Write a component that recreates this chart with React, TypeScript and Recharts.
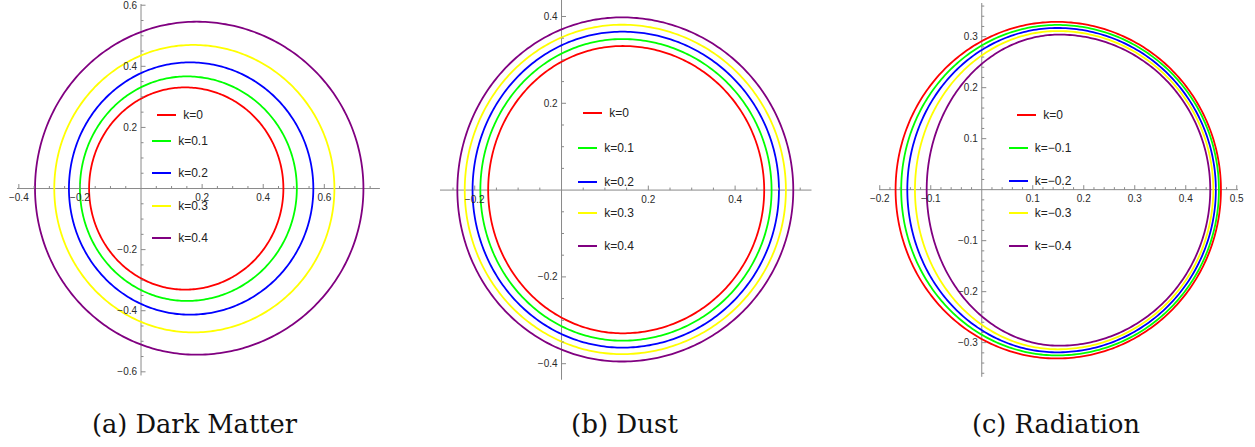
import React from 'react';
import { LineChart, Line, XAxis, YAxis, ReferenceLine, ReferenceDot } from 'recharts';

// ---- Orbit data: one entry per curve (left/right crossings of the x-axis,
// x of the highest point, top and bottom extents) ----
const orbitColors = ['#ff0000', '#00ff00', '#0000ff', '#ffff00', '#800080'];

const darkMatterLabels = ['k=0', 'k=0.1', 'k=0.2', 'k=0.3', 'k=0.4'];
const darkMatterLeft = [-0.170, -0.200, -0.236, -0.284, -0.347];
const darkMatterRight = [0.466, 0.510, 0.564, 0.633, 0.728];
const darkMatterPeakX = [0.144, 0.150, 0.160, 0.171, 0.182];
const darkMatterTop = [0.331, 0.367, 0.413, 0.470, 0.546];
const darkMatterBottom = [-0.331, -0.368, -0.413, -0.471, -0.544];

const dustLabels = ['k=0', 'k=0.1', 'k=0.2', 'k=0.3', 'k=0.4'];
const dustLeft = [-0.169, -0.187, -0.205, -0.223, -0.240];
const dustRight = [0.467, 0.484, 0.501, 0.517, 0.534];
const dustPeakX = [0.141, 0.140, 0.140, 0.139, 0.139];
const dustTop = [0.332, 0.348, 0.365, 0.381, 0.398];
const dustBottom = [-0.330, -0.347, -0.363, -0.378, -0.395];

const radiationLabels = ['k=0', 'k=\u22120.1', 'k=\u22120.2', 'k=\u22120.3', 'k=\u22120.4'];
const radiationLeft = [-0.169, -0.158, -0.146, -0.131, -0.108];
const radiationRight = [0.469, 0.465, 0.459, 0.454, 0.448];
const radiationPeakX = [0.147, 0.148, 0.148, 0.149, 0.152];
const radiationTop = [0.329, 0.323, 0.317, 0.311, 0.304];
const radiationBottom = [-0.331, -0.325, -0.319, -0.313, -0.306];

// ---- Axis ticks ----
const darkMatterXTicks = [-0.4, -0.2, 0.2, 0.4, 0.6];
const darkMatterYTicks = [0.6, 0.4, 0.2, -0.2, -0.4, -0.6];
const dustXTicks = [-0.2, 0.2, 0.4];
const dustYTicks = [0.4, 0.2, -0.2, -0.4];
const radiationXTicks = [-0.2, -0.1, 0.1, 0.2, 0.3, 0.4, 0.5];
const radiationYTicks = [0.3, 0.2, 0.1, -0.1, -0.2, -0.3];

const AXIS_COLOR = '#8a8a8a';
const TICK_TEXT = '#2a2a2a';
const SANS = "'Liberation Sans', Arial, sans-serif";
const SERIF = "'DejaVu Serif', serif";

type Orbit = { x: number; y: number }[];

// Closed orbit traced through its four extreme points.
function traceOrbit(left: number, right: number, peakX: number, top: number, bottom: number): Orbit {
  const n = 360;
  const pts: Orbit = [];
  for (let i = 0; i <= n; i++) {
    const t = (2 * Math.PI * i) / n;
    const c = Math.cos(t);
    const s = Math.sin(t);
    const x = peakX + c * (c >= 0 ? right - peakX : peakX - left);
    const y = s >= 0 ? s * top : -s * bottom;
    pts.push({ x, y });
  }
  return pts;
}

function fmt(v: number): string {
  const s = Math.abs(v).toFixed(1);
  return v < 0 ? '\u2212' + s : s;
}

function minorTicks(domain: [number, number], step: number, majors: number[]): number[] {
  const out: number[] = [];
  const start = Math.ceil(domain[0] / step - 1e-9);
  const end = Math.floor(domain[1] / step + 1e-9);
  for (let i = start; i <= end; i++) {
    const v = +(i * step).toFixed(4);
    if (Math.abs(v) < 1e-9) continue;
    if (majors.some((m) => Math.abs(m - v) < 1e-9)) continue;
    out.push(v);
  }
  return out;
}

type PanelProps = {
  caption: string;
  captionX: number;
  captionWidth: number;
  labels: string[];
  left: number[];
  right: number[];
  peakX: number[];
  top: number[];
  bottom: number[];
  xTicks: number[];
  yTicks: number[];
  minorStep: number;
  xDomain: [number, number];
  yDomain: [number, number];
  scale: number;
  originX: number;
  originY: number;
  legendX: number;
  legendY: number[];
};

const PAD = 30;

function OrbitPanel(p: PanelProps) {
  const plotX = p.originX + p.xDomain[0] * p.scale;
  const plotY = p.originY - p.yDomain[1] * p.scale;
  const plotW = (p.xDomain[1] - p.xDomain[0]) * p.scale;
  const plotH = (p.yDomain[1] - p.yDomain[0]) * p.scale;
  const xMinor = minorTicks(p.xDomain, p.minorStep, p.xTicks);
  const yMinor = minorTicks(p.yDomain, p.minorStep, p.yTicks);

  const xTick = (len: number, label?: string) => (q: any) => (
    <g>
      <line x1={q.cx} y1={q.cy} x2={q.cx} y2={q.cy - len} stroke={AXIS_COLOR} strokeWidth={1} />
      {label ? (
        <text x={q.cx} y={q.cy + 12.5} textAnchor="middle" fontSize={10} fill={TICK_TEXT}
          style={{ fontFamily: SANS }}>{label}</text>
      ) : null}
    </g>
  );
  const yTick = (len: number, label?: string) => (q: any) => (
    <g>
      <line x1={q.cx} y1={q.cy} x2={q.cx + len} y2={q.cy} stroke={AXIS_COLOR} strokeWidth={1} />
      {label ? (
        <text x={q.cx - 4} y={q.cy + 3.5} textAnchor="end" fontSize={10} fill={TICK_TEXT}
          style={{ fontFamily: SANS }}>{label}</text>
      ) : null}
    </g>
  );

  return (
    <>
      <div style={{ position: 'absolute', left: plotX - PAD, top: plotY - PAD }}>
        <LineChart width={plotW + 2 * PAD} height={plotH + 2 * PAD}
          margin={{ top: PAD, right: PAD, bottom: PAD, left: PAD }}>
          <XAxis type="number" dataKey="x" domain={p.xDomain} hide allowDataOverflow />
          <YAxis type="number" dataKey="y" domain={p.yDomain} hide allowDataOverflow />
          <ReferenceLine y={0} stroke={AXIS_COLOR} strokeWidth={1} ifOverflow="visible" />
          <ReferenceLine x={0} stroke={AXIS_COLOR} strokeWidth={1} ifOverflow="visible" />
          {xMinor.map((v) => (
            <ReferenceDot key={'xm' + v} x={v} y={0} r={0} ifOverflow="visible" shape={xTick(2.5)} />
          ))}
          {yMinor.map((v) => (
            <ReferenceDot key={'ym' + v} x={0} y={v} r={0} ifOverflow="visible" shape={yTick(2.5)} />
          ))}
          {p.xTicks.map((v) => (
            <ReferenceDot key={'xt' + v} x={v} y={0} r={0} ifOverflow="visible" shape={xTick(4.5, fmt(v))} />
          ))}
          {p.yTicks.map((v) => (
            <ReferenceDot key={'yt' + v} x={0} y={v} r={0} ifOverflow="visible" shape={yTick(4.5, fmt(v))} />
          ))}
          {p.labels.map((name, i) => (
            <Line
              key={name}
              name={name}
              data={traceOrbit(p.left[i], p.right[i], p.peakX[i], p.top[i], p.bottom[i])}
              dataKey="y"
              type="linear"
              stroke={orbitColors[i]}
              strokeWidth={1.8}
              dot={false}
              activeDot={false}
              isAnimationActive={false}
            />
          ))}
        </LineChart>
      </div>
      {p.labels.map((name, i) => (
        <div key={'lg' + name} style={{
          position: 'absolute', left: p.legendX - 100, width: 200, top: p.legendY[i] - 8, height: 16,
          display: 'flex', alignItems: 'center', justifyContent: 'center',
          fontFamily: SANS, fontSize: 12, color: '#222',
        }}>
          <span style={{ display: 'inline-block', width: 19, height: 2, background: orbitColors[i], marginRight: 7 }} />
          <span style={{ lineHeight: '16px' }}>{name}</span>
        </div>
      ))}
      <svg style={{ position: 'absolute', left: 0, top: 0 }} width={1255} height={447} pointerEvents="none">
        <text x={p.captionX} y={433} fontSize={26} fill="#111" style={{ fontFamily: SERIF }}
          textLength={p.captionWidth} lengthAdjust="spacingAndGlyphs">{p.caption}</text>
      </svg>
    </>
  );
}

export default function App() {
  return (
    <div style={{ position: 'absolute', left: 0, top: 0, width: 1255, height: 447, background: '#fff', overflow: 'hidden' }}>
      <OrbitPanel
        caption="(a) Dark Matter" captionX={92} captionWidth={205}
        labels={darkMatterLabels} left={darkMatterLeft} right={darkMatterRight}
        peakX={darkMatterPeakX} top={darkMatterTop} bottom={darkMatterBottom}
        xTicks={darkMatterXTicks} yTicks={darkMatterYTicks} minorStep={0.05}
        xDomain={[-0.406, 0.782]} yDomain={[-0.612, 0.604]}
        scale={305.5} originX={141} originY={189}
        legendX={180} legendY={[115, 141, 173, 206, 238]}
      />
      <OrbitPanel
        caption="(b) Dust" captionX={571} captionWidth={107}
        labels={dustLabels} left={dustLeft} right={dustRight}
        peakX={dustPeakX} top={dustTop} bottom={dustBottom}
        xTicks={dustXTicks} yTicks={dustYTicks} minorStep={0.05}
        xDomain={[-0.280, 0.576]} yDomain={[-0.437, 0.438]}
        scale={434} originX={561.6} originY={190}
        legendX={606} legendY={[113.3, 147.7, 181.7, 213.3, 245.7]}
      />
      <OrbitPanel
        caption="(c) Radiation" captionX={972} captionWidth={168}
        labels={radiationLabels} left={radiationLeft} right={radiationRight}
        peakX={radiationPeakX} top={radiationTop} bottom={radiationBottom}
        xTicks={radiationXTicks} yTicks={radiationYTicks} minorStep={0.02}
        xDomain={[-0.2015, 0.5025]} yDomain={[-0.367, 0.366]}
        scale={510} originX={981.7} originY={189.5}
        legendX={1040} legendY={[115, 147.7, 181, 213.3, 245.7]}
      />
    </div>
  );
}
